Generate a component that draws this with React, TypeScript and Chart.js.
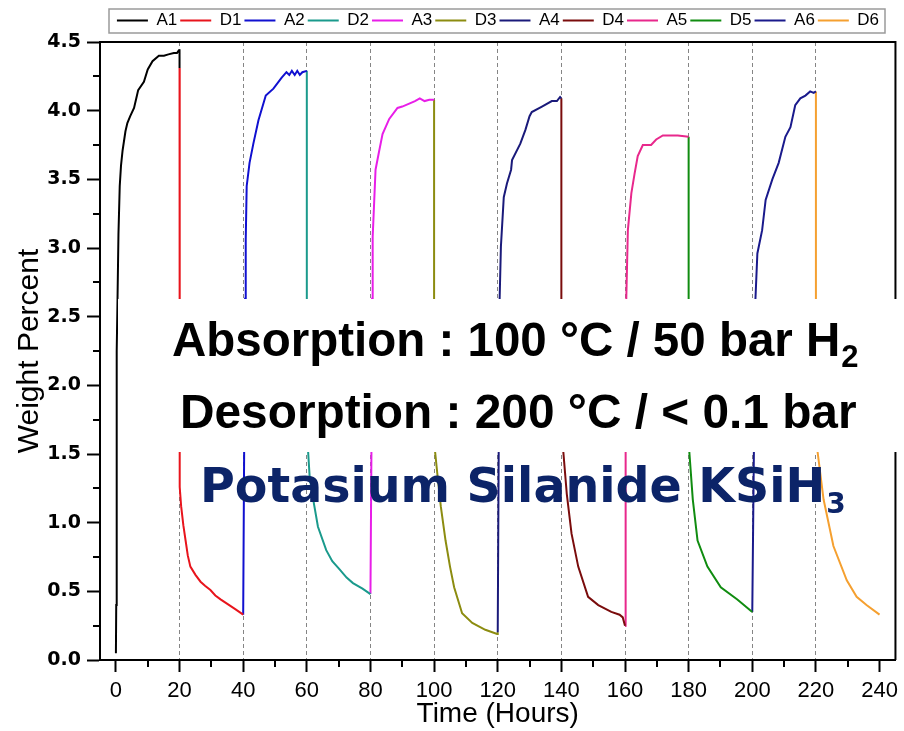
import React, { useEffect, useRef } from 'react';
import { Chart, registerables } from 'chart.js';

Chart.register(...registerables);

// ---------- data ----------
const seriesNames = ['A1', 'D1', 'A2', 'D2', 'A3', 'D3', 'A4', 'D4', 'A5', 'D5', 'A6', 'D6'];
const seriesColors = ['#000000', '#e8141c', '#1010d0', '#1a9a8c', '#e81ee8', '#8c8c10', '#1a1a7a', '#7a0c0c', '#e8288c', '#108c10', '#1a1a8c', '#f5a030'];

const a1Time = [0, 0.1, 0.2, 0.3, 0.5, 0.8, 1.2, 1.6, 2.1, 3.0, 3.6, 4.5, 5.7, 6.5, 7.0, 8.8, 10.0, 11.5, 13.5, 15.1, 16.5, 18.2, 19.2, 19.8, 20.0, 20.0];
const a1Weight = [0.05, 0.4, 1.45, 2.25, 2.62, 3.1, 3.45, 3.6, 3.71, 3.85, 3.91, 3.96, 4.02, 4.1, 4.15, 4.21, 4.3, 4.36, 4.4, 4.4, 4.41, 4.42, 4.42, 4.44, 4.44, 4.31];

const d1Time = [20, 20, 20.1, 20.5, 21.2, 21.9, 22.6, 23.4, 25, 26.6, 28, 29.7, 31.25, 33, 34.9, 37.5, 40];
const d1Weight = [4.31, 1.5, 1.26, 1.12, 0.98, 0.87, 0.76, 0.68, 0.62, 0.57, 0.54, 0.51, 0.47, 0.44, 0.41, 0.37, 0.33];

const a2Time = [40, 40.3, 40.6, 40.8, 41.1, 42, 43.2, 44.8, 47.1, 49.5, 52.1, 53.6, 54.5, 55.3, 56.2, 57, 57.8, 58.6, 60];
const a2Weight = [0.33, 1.5, 2.63, 3.06, 3.45, 3.62, 3.76, 3.93, 4.11, 4.16, 4.24, 4.28, 4.26, 4.29, 4.26, 4.29, 4.26, 4.28, 4.29];

const d2Time = [60, 60, 60.4, 60.9, 62, 63.5, 66.1, 68, 70.3, 72.5, 74.5, 77.5, 80];
const d2Weight = [4.29, 2.6, 1.52, 1.33, 1.17, 0.97, 0.8, 0.72, 0.66, 0.6, 0.56, 0.52, 0.48];

const a3Time = [80, 80.3, 80.5, 80.7, 81.6, 82.6, 83.8, 85.9, 88.5, 90, 92, 94, 95.5, 97, 98.5, 100];
const a3Weight = [0.48, 1.5, 2.63, 3.08, 3.57, 3.69, 3.83, 3.94, 4.02, 4.03, 4.05, 4.07, 4.09, 4.07, 4.08, 4.08];

const d3Time = [100, 100, 100.3, 101, 102.1, 103.6, 105, 106.3, 108.8, 112, 116.1, 119.8, 120];
const d3Weight = [4.08, 2.6, 1.52, 1.36, 1.12, 0.87, 0.68, 0.53, 0.34, 0.27, 0.22, 0.19, 0.2];

const a4Time = [120, 120.3, 120.6, 121, 121.9, 122.9, 124.2, 124.5, 127.1, 128.7, 130, 130.7, 133.9, 137, 138.6, 139.6, 140];
const a4Weight = [0.2, 1.5, 2.63, 3.01, 3.37, 3.47, 3.57, 3.64, 3.76, 3.86, 3.96, 3.99, 4.03, 4.07, 4.07, 4.1, 4.09];

const d4Time = [140, 140, 140.6, 141.7, 143.2, 145.3, 148.4, 151.6, 155.7, 158.3, 159.3, 160];
const d4Weight = [4.09, 2.6, 1.52, 1.21, 0.92, 0.68, 0.46, 0.4, 0.35, 0.33, 0.31, 0.25];

const a5Time = [160, 160.2, 160.4, 160.9, 162, 163, 164, 165.6, 168.2, 169.8, 171.9, 173.5, 176.6, 180];
const a5Weight = [0.25, 1.5, 2.63, 3.13, 3.4, 3.54, 3.67, 3.75, 3.75, 3.79, 3.82, 3.82, 3.82, 3.81];

const d5Time = [180, 180, 180.2, 181.3, 182.8, 185.9, 190.1, 195.3, 200];
const d5Weight = [3.81, 2.6, 1.52, 1.17, 0.87, 0.68, 0.53, 0.44, 0.35];

const a6Time = [200, 200.5, 201, 201.6, 203.1, 204.2, 206.3, 208.3, 210.4, 212, 213.5, 215.1, 216.7, 218.2, 219.3, 220];
const a6Weight = [0.35, 1.5, 2.63, 2.96, 3.13, 3.35, 3.5, 3.62, 3.81, 3.88, 4.04, 4.09, 4.11, 4.14, 4.13, 4.14];

const d6Time = [220, 220, 220.5, 222.4, 225.5, 229.7, 232.8, 235.9, 240];
const d6Weight = [4.14, 2.6, 1.52, 1.17, 0.83, 0.58, 0.46, 0.4, 0.33];

const seriesTimes = [a1Time, d1Time, a2Time, d2Time, a3Time, d3Time, a4Time, d4Time, a5Time, d5Time, a6Time, d6Time];
const seriesWeights = [a1Weight, d1Weight, a2Weight, d2Weight, a3Weight, d3Weight, a4Weight, d4Weight, a5Weight, d5Weight, a6Weight, d6Weight];

const xTickValues = [0, 20, 40, 60, 80, 100, 120, 140, 160, 180, 200, 220, 240];
const xMinorTickValues = [10, 30, 50, 70, 90, 110, 130, 150, 170, 190, 210, 230];
const cycleBoundaries = [20, 40, 60, 80, 100, 120, 140, 160, 180, 200, 220];
const yTickValues = [0, 0.5, 1.0, 1.5, 2.0, 2.5, 3.0, 3.5, 4.0, 4.5];
const yMinorTickValues = [0.25, 0.75, 1.25, 1.75, 2.25, 2.75, 3.25, 3.75, 4.25];

const xTitle = 'Time (Hours)';
const yTitle = 'Weight Percent';
const absorptionText = 'Absorption : 100 °C / 50 bar H';
const absorptionSub = '2';
const desorptionText = 'Desorption : 200 °C / < 0.1 bar';
const compoundText = 'Potasium Silanide KSiH';
const compoundSub = '3';

const SANS = '"Liberation Sans", Arial, Helvetica, sans-serif';
const DEJAVU = '"DejaVu Sans", Verdana, sans-serif';

const decorPlugin = {
  id: 'decor',
  afterLayout(chart: any) {
    const lg = chart.legend;
    if (!lg) return;
    const dx = 498 - (lg.left + lg.right) / 2;
    lg.left += dx;
    lg.right += dx;
    lg.top -= 3;
    lg.bottom -= 3;
  },
  afterDatasetsDraw(chart: any) {
    const { ctx, chartArea } = chart;
    ctx.save();
    // top & right frame
    ctx.strokeStyle = '#000';
    ctx.lineWidth = 2;
    ctx.beginPath();
    ctx.moveTo(chartArea.left, chartArea.top);
    ctx.lineTo(chartArea.right, chartArea.top);
    ctx.lineTo(chartArea.right, chartArea.bottom);
    ctx.stroke();

    // white panel behind the conditions text
    ctx.fillStyle = '#ffffff';
    ctx.fillRect(118, 299, 904 - 118, 452 - 299);

    ctx.fillStyle = '#000';
    ctx.textBaseline = 'alphabetic';
    ctx.textAlign = 'left';
    ctx.font = `bold 47.5px ${SANS}`;
    ctx.fillText(absorptionText, 172, 356);
    const w1 = ctx.measureText(absorptionText).width;
    ctx.font = `bold 31px ${SANS}`;
    ctx.fillText(absorptionSub, 172 + w1 + 1, 367);

    ctx.font = `bold 47.8px ${SANS}`;
    ctx.fillText(desorptionText, 180, 428);

    ctx.fillStyle = '#0c2468';
    ctx.font = `bold 47.5px ${DEJAVU}`;
    ctx.fillText(compoundText, 200, 502);
    const w3 = ctx.measureText(compoundText).width;
    ctx.font = `bold 28px ${DEJAVU}`;
    ctx.fillText(compoundSub, 200 + w3 + 1, 513);
    ctx.restore();
  },
  afterDraw(chart: any) {
    const { ctx, chartArea } = chart;
    const xs = chart.scales.x;
    const ys = chart.scales.y;
    ctx.save();
    ctx.strokeStyle = '#000';
    ctx.lineWidth = 2;
    ctx.beginPath();
    xMinorTickValues.forEach((v) => {
      const px = Math.round(xs.getPixelForValue(v));
      ctx.moveTo(px, chartArea.bottom);
      ctx.lineTo(px, chartArea.bottom + 7);
    });
    yMinorTickValues.forEach((v) => {
      const py = Math.round(ys.getPixelForValue(v));
      ctx.moveTo(chartArea.left - 7, py);
      ctx.lineTo(chartArea.left, py);
    });
    ctx.stroke();

    // legend frame
    const lg = chart.legend;
    if (lg && lg.legendHitBoxes && lg.legendHitBoxes.length) {
      const hb = lg.legendHitBoxes;
      const first = hb[0];
      const last = hb[hb.length - 1];
      const cy = first.top + first.height / 2;
      const x0 = first.left - 8;
      const x1 = last.left + last.width + 6;
      ctx.strokeStyle = '#9a9a9a';
      ctx.lineWidth = 1.5;
      ctx.strokeRect(Math.round(x0), Math.round(cy - 12), Math.round(x1 - x0), 24);
    }
    ctx.restore();
  },
};

export default function App() {
  const canvasRef = useRef<HTMLCanvasElement | null>(null);

  useEffect(() => {
    if (!canvasRef.current) return;
    Chart.defaults.font.family = SANS;
    const datasets = seriesNames.map((name, i) => ({
      label: name,
      data: seriesTimes[i].map((t, j) => ({ x: t, y: seriesWeights[i][j] })),
      borderColor: seriesColors[i],
      backgroundColor: seriesColors[i],
      borderWidth: 2,
      pointRadius: 0,
      tension: 0,
      fill: false,
    }));

    const chart = new Chart(canvasRef.current, {
      type: 'line',
      data: { datasets },
      plugins: [decorPlugin],
      options: {
        animation: false,
        responsive: true,
        maintainAspectRatio: false,
        events: [],
        layout: { padding: { top: 12, right: 5, left: 0, bottom: 0 } },
        plugins: {
          tooltip: { enabled: false },
          legend: {
            position: 'top',
            labels: {
              boxWidth: 31,
              boxHeight: 0,
              padding: 3,
              color: '#000',
              font: { family: SANS, size: 17 },
            },
          },
        },
        scales: {
          x: {
            type: 'linear',
            min: -5,
            max: 245,
            afterBuildTicks: (s: any) => {
              s.ticks = xTickValues.map((v) => ({ value: v }));
            },
            afterFit: (s: any) => {
              s.height = 71;
            },
            ticks: {
              color: '#000',
              font: { family: SANS, size: 22 },
              padding: 6,
              maxRotation: 0,
              autoSkip: false,
              callback: (v: any) => String(v),
            },
            grid: {
              drawOnChartArea: true,
              color: (c: any) => (c.tick && cycleBoundaries.includes(c.tick.value) ? '#858585' : 'rgba(0,0,0,0)'),
              lineWidth: 1,
              tickLength: 12,
              tickColor: '#000',
              tickWidth: 2,
              tickBorderDash: [],
            },
            border: { display: true, color: '#000', width: 2, dash: [4, 3] },
            title: {
              display: true,
              text: xTitle,
              color: '#000',
              font: { family: SANS, size: 28 },
              padding: { top: 0, bottom: 0 },
            },
          },
          y: {
            type: 'linear',
            min: 0,
            max: 4.5,
            afterBuildTicks: (s: any) => {
              s.ticks = yTickValues.map((v) => ({ value: v }));
            },
            afterFit: (s: any) => {
              s.width = 100;
            },
            ticks: {
              color: '#000',
              font: { family: DEJAVU, size: 19, weight: 'bold' },
              padding: 6,
              callback: (v: any) => Number(v).toFixed(1),
            },
            grid: {
              drawOnChartArea: false,
              tickLength: 13,
              tickColor: '#000',
              tickWidth: 2,
            },
            border: { display: true, color: '#000', width: 2 },
            title: {
              display: true,
              text: yTitle,
              color: '#000',
              font: { family: SANS, size: 30 },
              padding: { top: 12, bottom: 0 },
            },
          },
        },
      } as any,
    });
    return () => chart.destroy();
  }, []);

  return (
    <div style={{ position: 'fixed', left: 0, top: 0, width: 904, height: 731, background: '#fff' }}>
      <canvas ref={canvasRef} />
    </div>
  );
}
